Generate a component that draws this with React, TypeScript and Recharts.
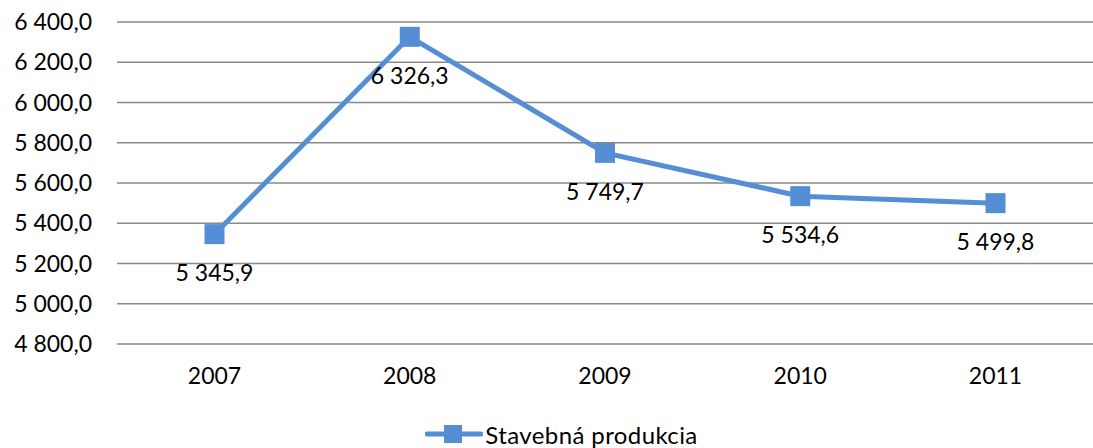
import { LineChart, Line, XAxis, YAxis, CartesianGrid, Legend, LabelList } from 'recharts';

// rok / stavebná produkcia
const years = ['2007', '2008', '2009', '2010', '2011'];
const production = [5345.9, 6326.3, 5749.7, 5534.6, 5499.8];
const yTicks = [4800, 5000, 5200, 5400, 5600, 5800, 6000, 6200, 6400];
const seriesName = 'Stavebná produkcia';

const data = years.map((year, i) => ({ year, value: production[i] }));

const BLUE = '#558ed5';
const FONT = 'Lato, "Open Sans", sans-serif';
const FS = 23;

// 6400 -> "6 400,0"
const fmt = (v: number) => {
  const [int, dec] = v.toFixed(1).split('.');
  return int.replace(/\B(?=(\d{3})+(?!\d))/g, ' ') + ',' + dec;
};

const SquareDot = (props: any) => {
  const { cx, cy } = props;
  if (cx == null || cy == null) return null;
  return <rect x={cx - 10} y={cy - 10} width={20} height={20} fill={BLUE} />;
};

const PointLabel = (props: any) => {
  const { x, y, value } = props;
  return (
    <text x={x} y={y + 38} textAnchor="middle" dominantBaseline="central" fill="#000" fontSize={FS} fontFamily={FONT}>
      {fmt(value)}
    </text>
  );
};

const LegendContent = () => (
  <div style={{ height: 40, display: 'flex', justifyContent: 'center', alignItems: 'center', paddingTop: 12, paddingLeft: 30, boxSizing: 'border-box' }}>
    <svg width={58} height={20} style={{ marginRight: 2 }}>
      <line x1={2} y1={10} x2={56} y2={10} stroke={BLUE} strokeWidth={5} strokeLinecap="round" />
      <rect x={19} y={1} width={18} height={18} fill={BLUE} />
    </svg>
    <span style={{ fontFamily: FONT, fontSize: 24, color: '#000', letterSpacing: 0.4 }}>{seriesName}</span>
  </div>
);

export default function App() {
  return (
    <div style={{ position: 'absolute', left: 0, top: 0, background: '#fff' }}>
      <LineChart width={1093} height={448} data={data} margin={{ top: 22, right: 0, left: 0, bottom: 0 }}>
        <CartesianGrid vertical={false} stroke="#898989" strokeWidth={1.5} />
        <XAxis
          dataKey="year"
          axisLine={false}
          tickLine={false}
          tickSize={0}
          tickMargin={24}
          height={64}
          padding={{ left: 97.5, right: 97.5 }}
          tick={{ fill: '#000', fontSize: FS, fontFamily: FONT }}
        />
        <YAxis
          domain={[4800, 6400]}
          ticks={yTicks}
          tickFormatter={fmt}
          axisLine={false}
          tickLine={false}
          tickSize={0}
          tickMargin={25}
          width={117}
          tick={{ fill: '#000', fontSize: FS, fontFamily: FONT }}
        />
        <Legend verticalAlign="bottom" content={<LegendContent />} />
        <Line
          dataKey="value"
          name={seriesName}
          stroke={BLUE}
          strokeWidth={5}
          dot={<SquareDot />}
          activeDot={false}
          isAnimationActive={false}
        >
          <LabelList dataKey="value" content={<PointLabel />} />
        </Line>
      </LineChart>
    </div>
  );
}
